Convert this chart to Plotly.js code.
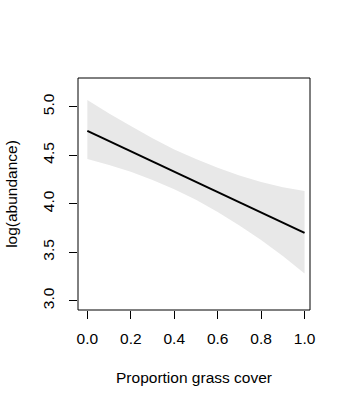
<!DOCTYPE html>
<html>
<head>
<meta charset="utf-8">
<script src="https://cdn.plot.ly/plotly-3.0.1.min.js"></script>
<style>html,body{margin:0;padding:0;background:#fff;}#chart{width:351px;height:408px;}</style>
</head>
<body>
<div id="chart"></div>
<script>
// Data
const grassCover = [0, 0.1, 0.2, 0.3, 0.4, 0.5, 0.6, 0.7, 0.8, 0.9, 1.0];
const fitted     = [4.75, 4.645, 4.54, 4.435, 4.33, 4.225, 4.12, 4.015, 3.91, 3.805, 3.70];
const upperCI    = [5.07, 4.93, 4.80, 4.675, 4.56, 4.46, 4.37, 4.29, 4.225, 4.17, 4.13];
const lowerCI    = [4.46, 4.40, 4.33, 4.245, 4.15, 4.04, 3.915, 3.775, 3.625, 3.46, 3.28];
const xTickVals  = [0, 0.2, 0.4, 0.6, 0.8, 1.0];
const xTickText  = ["0.0", "0.2", "0.4", "0.6", "0.8", "1.0"];
const yTickVals  = [3.0, 3.5, 4.0, 4.5, 5.0];
const yTickText  = ["3.0", "3.5", "4.0", "4.5", "5.0"];

const font = {family: "Liberation Sans, Arial, sans-serif", size: 15.5, color: "#000"};

const traces = [
  {x: grassCover, y: lowerCI, mode: "lines", line: {width: 0, color: "rgba(0,0,0,0)"},
   hoverinfo: "skip", showlegend: false},
  {x: grassCover, y: upperCI, mode: "lines", line: {width: 0, color: "rgba(0,0,0,0)"},
   fill: "tonexty", fillcolor: "#e8e8e8", hoverinfo: "skip", showlegend: false},
  {x: grassCover, y: fitted, mode: "lines", line: {width: 2, color: "#000"}, showlegend: false}
];

const layout = {
  width: 351, height: 408,
  margin: {l: 78, r: 41, t: 78, b: 98, pad: 0},
  paper_bgcolor: "#fff", plot_bgcolor: "#fff",
  font: font,
  showlegend: false,
  xaxis: {
    range: [-0.043, 1.025], showgrid: false, zeroline: false, showline: false,
    tickmode: "array", tickvals: xTickVals, ticktext: xTickText,
    ticks: "outside", ticklen: 8, tickwidth: 1, tickcolor: "#000",
    ticklabelstandoff: 6,
    tickfont: font,
    title: {text: "Proportion grass cover", font: font, standoff: 26}
  },
  yaxis: {
    range: [2.904, 5.296], showgrid: false, zeroline: false, showline: false,
    tickmode: "array", tickvals: yTickVals, ticktext: yTickText,
    ticks: "outside", ticklen: 8, tickwidth: 1, tickcolor: "#000",
    tickangle: -90, ticklabelstandoff: 9,
    tickfont: font,
    title: {text: "log(abundance)", font: font, standoff: 18}
  },
  shapes: [
    {type: "rect", xref: "paper", yref: "paper", x0: 0, x1: 1, y0: 0, y1: 1,
     line: {color: "#000", width: 1}, fillcolor: "rgba(0,0,0,0)"}
  ]
};

Plotly.newPlot("chart", traces, layout, {displayModeBar: false, staticPlot: true});
</script>
</body>
</html>
